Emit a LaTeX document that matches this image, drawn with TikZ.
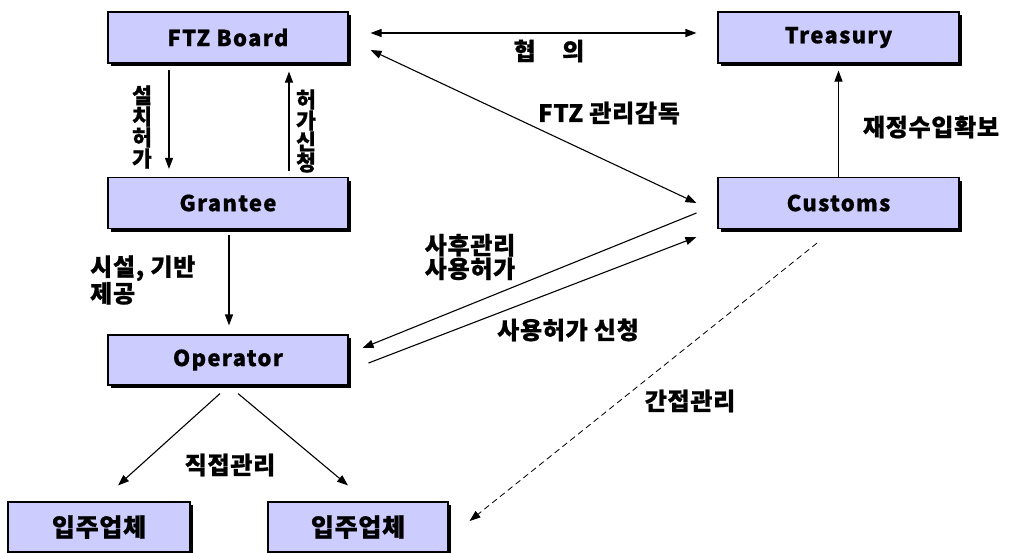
\documentclass[tikz,border=0pt]{standalone}
\usepackage{fontspec}
\setmainfont{Noto Sans CJK KR}[BoldFeatures={FakeBold=0.8}]
\newfontfamily\widekr{Noto Sans CJK KR}[LetterSpace=3,BoldFeatures={FakeBold=0.8}]
\newfontfamily\boxlatin{Noto Sans CJK KR}[LetterSpace=6,BoldFeatures={FakeBold=0.8}]
\usepackage{tikz}
\usetikzlibrary{calc, arrows.meta, shadows}
\definecolor{boxfill}{RGB}{204,204,255}

\begin{document}
\begin{tikzpicture}[x=1pt,y=-1pt,font=\widekr\bfseries\fontsize{24}{21}\selectfont]
% Two styles: boxes and arrows
\tikzstyle{org box}=[rectangle,draw,line width=1.1pt,fill=boxfill,minimum width=240pt,minimum height=51pt,inner sep=0,
  font=\boxlatin\bfseries\fontsize{22}{24}\selectfont,
  drop shadow={shadow xshift=3pt,shadow yshift=-3pt,opacity=1,fill=black}];
\tikzstyle{flow}=[line width=1.1pt,-{Triangle[length=11pt,width=8pt]}];
\tikzstyle{stack}=[align=center,inner sep=0,font=\bfseries\fontsize{21.5}{21}\selectfont];
\useasboundingbox (0,0) rectangle (1009,552);
% The boxes
\node(board)[org box] at (228,37.5){FTZ Board};
\node(treasury)[org box,minimum width=241pt] at (838.5,37.5){Treasury};
\node(grantee)[org box] at (228,203){Grantee};
\node(customs)[org box,minimum width=241pt] at (838.5,203){Customs};
\node(operator)[org box,minimum height=50pt] at (228,360){Operator};
\node(firmA)[org box,minimum width=182pt,minimum height=50pt,font=\widekr\bfseries\fontsize{25}{24}\selectfont] at (99,527){입주업체};
\node(firmB)[org box,minimum width=180pt,minimum height=50pt,font=\widekr\bfseries\fontsize{25}{24}\selectfont] at (358,527){입주업체};
% Arrows
\draw[flow]([xshift=-59pt,yshift=-6pt]board.south)--([xshift=-59pt,yshift=8pt]grantee.north);
\draw[flow]([xshift=61pt,yshift=6pt]grantee.north)--([xshift=61pt,yshift=-8pt]board.south);
\draw[flow,{Triangle[length=11pt,width=8pt]}-{Triangle[length=11pt,width=8pt]}]([xshift=22pt,yshift=4.5pt]board.east)--([xshift=-21pt,yshift=4.5pt]treasury.west);
\draw[flow,{Triangle[length=11pt,width=8pt]}-{Triangle[length=11pt,width=8pt]}]([xshift=22pt,yshift=-12.5pt]board.east)--([xshift=-21pt]customs.west);
\draw[flow](customs.north)--([yshift=-7pt]treasury.south);
\draw[flow]([xshift=1pt,yshift=-6pt]grantee.south)--([xshift=1pt,yshift=9pt]operator.north);
\draw[flow]([xshift=-21pt,yshift=-10pt]customs.west)--([xshift=14pt,yshift=12pt]operator.east);
\draw[flow]([xshift=20pt,yshift=-3pt]operator.east)--([xshift=-21pt,yshift=-34pt]customs.west);
\draw[flow]([xshift=-8pt,yshift=-8pt]operator.south)--([xshift=19pt,yshift=16pt]firmA.north);
\draw[flow]([xshift=10pt,yshift=-8pt]operator.south)--([xshift=-10pt,yshift=16pt]firmB.north);
\draw[flow,dash pattern=on 6pt off 4pt,line width=0.8pt]([xshift=-21.5pt,yshift=-14pt]customs.south)--([xshift=21pt,yshift=6pt]firmB.east);
% Labels
\node(l1)[stack] at (142,127){설\\치\\허\\가};
\node(l2)[stack] at (306,131){허\\가\\신\\청};
\node(l3) at (549,51){협\hspace{1.1em}의};
\node(l4) at (609,113){FTZ 관리감독};
\node(l5) at (931,127){재정수입확보};
\node(l6)[anchor=west,align=left,inner sep=0] at (90,280){시설, 기반\\제공};
\node(l7)[align=left,inner sep=0] at (470,257){사후관리\\사용허가};
\node(l8) at (568,330){사용허가 신청};
\node(l9) at (230,465){직접관리};
\node(l10) at (690,401){간접관리};
\end{tikzpicture}
\end{document}
